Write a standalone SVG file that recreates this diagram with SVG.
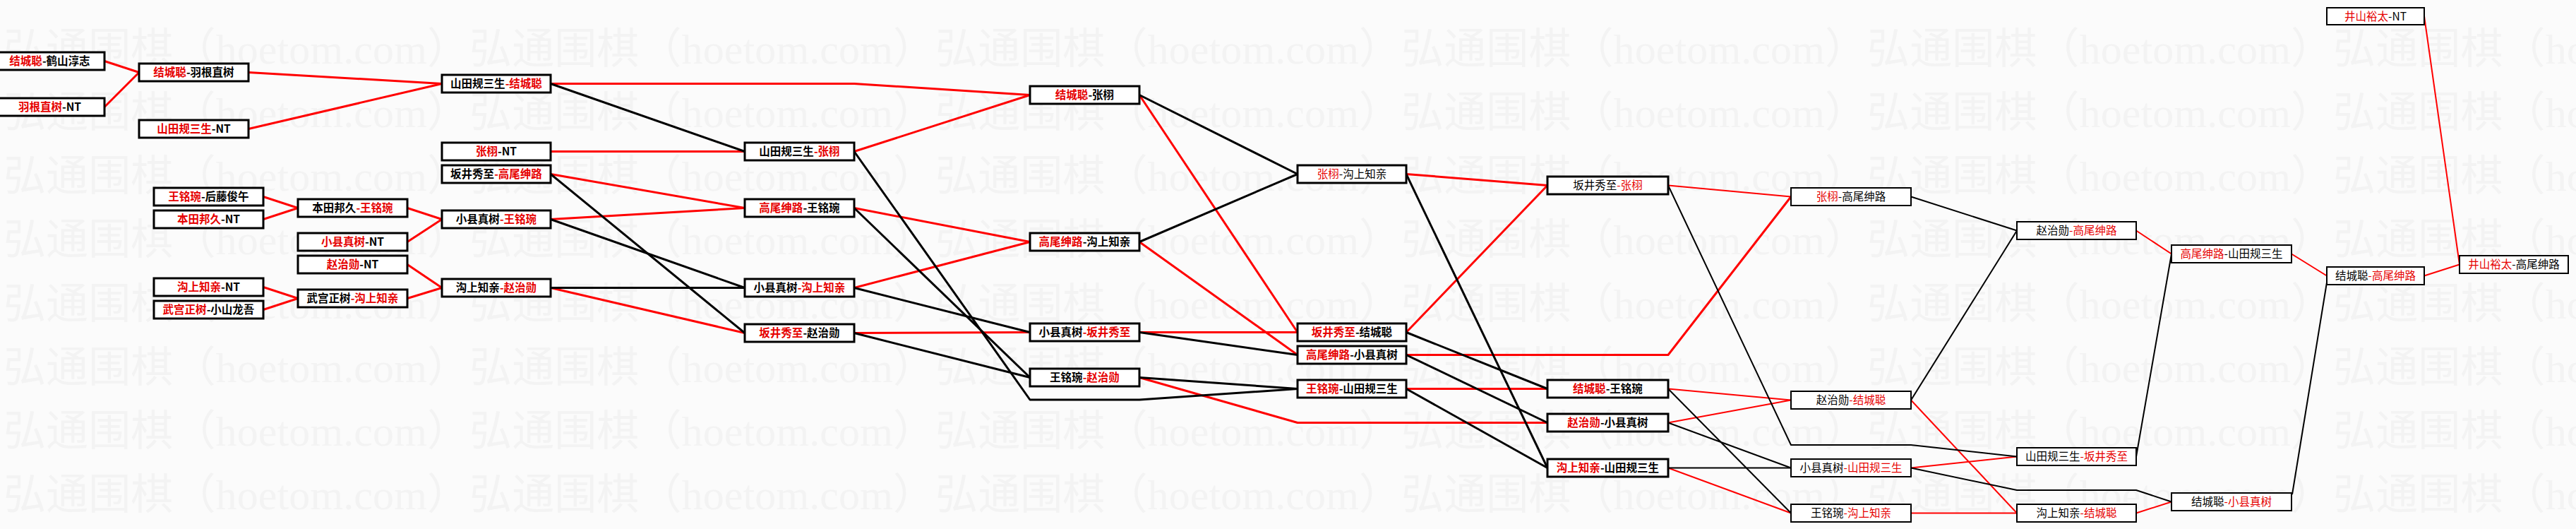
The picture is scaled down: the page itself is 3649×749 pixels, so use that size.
<svg xmlns="http://www.w3.org/2000/svg" width="3649" height="749" viewBox="0 0 3649 749">
<style>
.bg{fill:#fbfbfb}
.wm{font-family:"Liberation Serif","Noto Sans CJK SC",serif;font-size:60px;fill:#f3f3f3}
.bx{fill:#fff;stroke:#000;stroke-width:3}
.bx2{fill:#fff;stroke:#000;stroke-width:2}
.t{font-family:"Noto Sans CJK SC","Liberation Sans",sans-serif;font-size:15.5px;text-anchor:middle;font-weight:bold}
.tn{font-family:"Noto Sans CJK SC","Liberation Sans",sans-serif;font-size:15.5px;text-anchor:middle;font-weight:normal}
.r{fill:#e60000}
.k{fill:#000}
.lr{fill:none;stroke:#f00;stroke-width:3;stroke-linejoin:round}
.lk{fill:none;stroke:#000;stroke-width:3;stroke-linejoin:round}
.lr2{fill:none;stroke:#f00;stroke-width:2;stroke-linejoin:round}
.lk2{fill:none;stroke:#000;stroke-width:2;stroke-linejoin:round}
</style>
<rect class="bg" x="0" y="0" width="3649" height="749"/>
<g id="watermark">
<text class="wm" x="5" y="90" textLength="3960" lengthAdjust="spacing">弘通围棋（hoetom.com）弘通围棋（hoetom.com）弘通围棋（hoetom.com）弘通围棋（hoetom.com）弘通围棋（hoetom.com）弘通围棋（hoetom.com）</text>
<text class="wm" x="5" y="180" textLength="3960" lengthAdjust="spacing">弘通围棋（hoetom.com）弘通围棋（hoetom.com）弘通围棋（hoetom.com）弘通围棋（hoetom.com）弘通围棋（hoetom.com）弘通围棋（hoetom.com）</text>
<text class="wm" x="5" y="270" textLength="3960" lengthAdjust="spacing">弘通围棋（hoetom.com）弘通围棋（hoetom.com）弘通围棋（hoetom.com）弘通围棋（hoetom.com）弘通围棋（hoetom.com）弘通围棋（hoetom.com）</text>
<text class="wm" x="5" y="360" textLength="3960" lengthAdjust="spacing">弘通围棋（hoetom.com）弘通围棋（hoetom.com）弘通围棋（hoetom.com）弘通围棋（hoetom.com）弘通围棋（hoetom.com）弘通围棋（hoetom.com）</text>
<text class="wm" x="5" y="451" textLength="3960" lengthAdjust="spacing">弘通围棋（hoetom.com）弘通围棋（hoetom.com）弘通围棋（hoetom.com）弘通围棋（hoetom.com）弘通围棋（hoetom.com）弘通围棋（hoetom.com）</text>
<text class="wm" x="5" y="541" textLength="3960" lengthAdjust="spacing">弘通围棋（hoetom.com）弘通围棋（hoetom.com）弘通围棋（hoetom.com）弘通围棋（hoetom.com）弘通围棋（hoetom.com）弘通围棋（hoetom.com）</text>
<text class="wm" x="5" y="631" textLength="3960" lengthAdjust="spacing">弘通围棋（hoetom.com）弘通围棋（hoetom.com）弘通围棋（hoetom.com）弘通围棋（hoetom.com）弘通围棋（hoetom.com）弘通围棋（hoetom.com）</text>
<text class="wm" x="5" y="721" textLength="3960" lengthAdjust="spacing">弘通围棋（hoetom.com）弘通围棋（hoetom.com）弘通围棋（hoetom.com）弘通围棋（hoetom.com）弘通围棋（hoetom.com）弘通围棋（hoetom.com）</text>
</g>
<g id="connectors">
<polyline class="lr" points="148,86.5 197,102.5"/>
<polyline class="lr" points="148,151.5 197,102.5"/>
<polyline class="lr" points="352,102.5 626,118.5"/>
<polyline class="lr" points="352,182.5 626,118.5"/>
<polyline class="lr" points="373,278.5 422,294.5"/>
<polyline class="lr" points="373,310.5 422,294.5"/>
<polyline class="lr" points="373,406.5 422,422.5"/>
<polyline class="lr" points="373,438.5 422,422.5"/>
<polyline class="lr" points="577,294.5 626,310.5"/>
<polyline class="lr" points="577,342.5 626,310.5"/>
<polyline class="lr" points="577,374.5 626,407.5"/>
<polyline class="lr" points="577,422.5 626,407.5"/>
<polyline class="lr" points="780,118.5 1210,118.5 1459,134.5"/>
<polyline class="lr" points="780,214.5 1055,214.5"/>
<polyline class="lr" points="780,246.5 1055,294.5"/>
<polyline class="lr" points="780,310.5 1055,294.5"/>
<polyline class="lr" points="780,407.5 1055,471.5"/>
<polyline class="lr" points="1210,214.5 1459,134.5"/>
<polyline class="lr" points="1210,294.5 1459,342.5"/>
<polyline class="lr" points="1210,407.5 1459,342.5"/>
<polyline class="lr" points="1210,471.5 1459,470.5"/>
<polyline class="lr" points="1614,134.5 1838,470.5"/>
<polyline class="lr" points="1614,342.5 1838,502.5"/>
<polyline class="lr" points="1614,470.5 1838,470.5"/>
<polyline class="lr" points="1614,534.5 1838,598.5 2192,598.5"/>
<polyline class="lr" points="1992,246.5 2192,262.5"/>
<polyline class="lr" points="1992,470.5 2192,262.5"/>
<polyline class="lr" points="1992,502.5 2363,502.5 2537,278.5"/>
<polyline class="lr" points="1992,550.5 2192,550.5"/>
<polyline class="lr2" points="2363,262.5 2537,278.5"/>
<polyline class="lr2" points="2363,550.5 2537,566.5"/>
<polyline class="lr2" points="2363,598.5 2537,566.5"/>
<polyline class="lr2" points="2363,662.5 2537,726.5"/>
<polyline class="lr2" points="2707,566.5 2857,726.5"/>
<polyline class="lr2" points="2707,662.5 2857,646.5"/>
<polyline class="lr2" points="2707,726.5 2857,726.5"/>
<polyline class="lr2" points="3026,326.5 3076,359.5"/>
<polyline class="lr2" points="3026,726.5 3076,710.5"/>
<polyline class="lr2" points="3246,359.5 3296,390.5"/>
<polyline class="lr2" points="3434,390.5 3484,374.5"/>
<polyline class="lr2" points="3434,23 3484,374.5"/>
<polyline class="lk" points="780,118.5 1055,214.5"/>
<polyline class="lk" points="780,246.5 1055,471.5"/>
<polyline class="lk" points="780,310.5 1055,407.5"/>
<polyline class="lk" points="780,407.5 1055,407.5"/>
<polyline class="lk" points="1210,214.5 1459,566 1614,566 1838,550.5"/>
<polyline class="lk" points="1210,294.5 1459,534.5"/>
<polyline class="lk" points="1210,407.5 1459,470.5"/>
<polyline class="lk" points="1210,471.5 1459,534.5"/>
<polyline class="lk" points="1614,134.5 1838,246.5"/>
<polyline class="lk" points="1614,342.5 1838,246.5"/>
<polyline class="lk" points="1614,470.5 1838,502.5"/>
<polyline class="lk" points="1614,534.5 1838,550.5"/>
<polyline class="lk" points="1992,246.5 2192,662.5"/>
<polyline class="lk" points="1992,470.5 2192,550.5"/>
<polyline class="lk" points="1992,502.5 2192,598.5"/>
<polyline class="lk" points="1992,550.5 2192,662.5"/>
<polyline class="lk2" points="2363,262.5 2537,630 2707,630 2857,646.5"/>
<polyline class="lk2" points="2363,550.5 2537,726.5"/>
<polyline class="lk2" points="2363,598.5 2537,662.5"/>
<polyline class="lk2" points="2363,662.5 2537,662.5"/>
<polyline class="lk2" points="2707,278.5 2857,326.5"/>
<polyline class="lk2" points="2707,566.5 2857,326.5"/>
<polyline class="lk2" points="2707,662.5 2857,694 3026,694 3076,710.5"/>
<polyline class="lk2" points="3026,646.5 3076,359.5"/>
<polyline class="lk2" points="3247,700 3296,400"/>
</g>
<g id="n1"><rect class="bx" x="-7" y="74" width="155" height="25"/><text class="t" x="70.5" y="92"><tspan class="r">结城聪</tspan><tspan class="k">-鹤山淳志</tspan></text></g>
<g id="n2"><rect class="bx" x="-7" y="139" width="155" height="25"/><text class="t" x="70.5" y="157"><tspan class="r">羽根直树</tspan><tspan class="k">-NT</tspan></text></g>
<g id="n3"><rect class="bx" x="197" y="90" width="155" height="25"/><text class="t" x="274.5" y="108"><tspan class="r">结城聪</tspan><tspan class="k">-羽根直树</tspan></text></g>
<g id="n4"><rect class="bx" x="197" y="170" width="155" height="25"/><text class="t" x="274.5" y="188"><tspan class="r">山田规三生</tspan><tspan class="k">-NT</tspan></text></g>
<g id="n5"><rect class="bx" x="218" y="266" width="155" height="25"/><text class="t" x="295.5" y="284"><tspan class="r">王铭琬</tspan><tspan class="k">-后藤俊午</tspan></text></g>
<g id="n6"><rect class="bx" x="218" y="298" width="155" height="25"/><text class="t" x="295.5" y="316"><tspan class="r">本田邦久</tspan><tspan class="k">-NT</tspan></text></g>
<g id="n10"><rect class="bx" x="218" y="394" width="155" height="25"/><text class="t" x="295.5" y="412"><tspan class="r">沟上知亲</tspan><tspan class="k">-NT</tspan></text></g>
<g id="n11"><rect class="bx" x="218" y="426" width="155" height="25"/><text class="t" x="295.5" y="444"><tspan class="r">武宫正树</tspan><tspan class="k">-小山龙吾</tspan></text></g>
<g id="n7"><rect class="bx" x="422" y="282" width="155" height="25"/><text class="t" x="499.5" y="300"><tspan class="k">本田邦久</tspan><tspan class="r">-王铭琬</tspan></text></g>
<g id="n8"><rect class="bx" x="422" y="330" width="155" height="25"/><text class="t" x="499.5" y="348"><tspan class="r">小县真树</tspan><tspan class="k">-NT</tspan></text></g>
<g id="n9"><rect class="bx" x="422" y="362" width="155" height="25"/><text class="t" x="499.5" y="380"><tspan class="r">赵治勋</tspan><tspan class="k">-NT</tspan></text></g>
<g id="n12"><rect class="bx" x="422" y="410" width="155" height="25"/><text class="t" x="499.5" y="428"><tspan class="k">武宫正树</tspan><tspan class="r">-沟上知亲</tspan></text></g>
<g id="n13"><rect class="bx" x="626" y="106" width="154" height="25"/><text class="t" x="703" y="124"><tspan class="k">山田规三生</tspan><tspan class="r">-结城聪</tspan></text></g>
<g id="n14"><rect class="bx" x="626" y="202" width="154" height="25"/><text class="t" x="703" y="220"><tspan class="r">张栩</tspan><tspan class="k">-NT</tspan></text></g>
<g id="n15"><rect class="bx" x="626" y="234" width="154" height="25"/><text class="t" x="703" y="252"><tspan class="k">坂井秀至</tspan><tspan class="r">-高尾绅路</tspan></text></g>
<g id="n16"><rect class="bx" x="626" y="298" width="154" height="25"/><text class="t" x="703" y="316"><tspan class="k">小县真树</tspan><tspan class="r">-王铭琬</tspan></text></g>
<g id="n19"><rect class="bx" x="626" y="395" width="154" height="25"/><text class="t" x="703" y="413"><tspan class="k">沟上知亲</tspan><tspan class="r">-赵治勋</tspan></text></g>
<g id="n17"><rect class="bx" x="1055" y="202" width="155" height="25"/><text class="t" x="1132.5" y="220"><tspan class="k">山田规三生</tspan><tspan class="r">-张栩</tspan></text></g>
<g id="n18"><rect class="bx" x="1055" y="282" width="155" height="25"/><text class="t" x="1132.5" y="300"><tspan class="r">高尾绅路</tspan><tspan class="k">-王铭琬</tspan></text></g>
<g id="n20"><rect class="bx" x="1055" y="395" width="155" height="25"/><text class="t" x="1132.5" y="413"><tspan class="k">小县真树</tspan><tspan class="r">-沟上知亲</tspan></text></g>
<g id="n21"><rect class="bx" x="1055" y="459" width="155" height="25"/><text class="t" x="1132.5" y="477"><tspan class="r">坂井秀至</tspan><tspan class="k">-赵治勋</tspan></text></g>
<g id="n22"><rect class="bx" x="1459" y="122" width="155" height="25"/><text class="t" x="1536.5" y="140"><tspan class="r">结城聪</tspan><tspan class="k">-张栩</tspan></text></g>
<g id="n23"><rect class="bx" x="1459" y="330" width="155" height="25"/><text class="t" x="1536.5" y="348"><tspan class="r">高尾绅路</tspan><tspan class="k">-沟上知亲</tspan></text></g>
<g id="n24"><rect class="bx" x="1459" y="458" width="155" height="25"/><text class="t" x="1536.5" y="476"><tspan class="k">小县真树</tspan><tspan class="r">-坂井秀至</tspan></text></g>
<g id="n25"><rect class="bx" x="1459" y="522" width="155" height="25"/><text class="t" x="1536.5" y="540"><tspan class="k">王铭琬</tspan><tspan class="r">-赵治勋</tspan></text></g>
<g id="n26"><rect class="bx" x="1838" y="234" width="154" height="25"/><text class="tn" x="1915" y="252"><tspan class="r">张栩</tspan><tspan class="k">-沟上知亲</tspan></text></g>
<g id="n28"><rect class="bx" x="1838" y="458" width="154" height="25"/><text class="t" x="1915" y="476"><tspan class="r">坂井秀至</tspan><tspan class="k">-结城聪</tspan></text></g>
<g id="n29"><rect class="bx" x="1838" y="490" width="154" height="25"/><text class="t" x="1915" y="508"><tspan class="r">高尾绅路</tspan><tspan class="k">-小县真树</tspan></text></g>
<g id="n30"><rect class="bx" x="1838" y="538" width="154" height="25"/><text class="t" x="1915" y="556"><tspan class="r">王铭琬</tspan><tspan class="k">-山田规三生</tspan></text></g>
<g id="n27"><rect class="bx" x="2192" y="250" width="171" height="25"/><text class="tn" x="2277.5" y="268"><tspan class="k">坂井秀至</tspan><tspan class="r">-张栩</tspan></text></g>
<g id="n31"><rect class="bx" x="2192" y="538" width="171" height="25"/><text class="t" x="2277.5" y="556"><tspan class="r">结城聪</tspan><tspan class="k">-王铭琬</tspan></text></g>
<g id="n32"><rect class="bx" x="2192" y="586" width="171" height="25"/><text class="t" x="2277.5" y="604"><tspan class="r">赵治勋</tspan><tspan class="k">-小县真树</tspan></text></g>
<g id="n33"><rect class="bx" x="2192" y="650" width="171" height="25"/><text class="t" x="2277.5" y="668"><tspan class="r">沟上知亲</tspan><tspan class="k">-山田规三生</tspan></text></g>
<g id="n34"><rect class="bx2" x="2537" y="266" width="170" height="25"/><text class="tn" x="2622" y="284"><tspan class="r">张栩</tspan><tspan class="k">-高尾绅路</tspan></text></g>
<g id="n36"><rect class="bx2" x="2537" y="554" width="170" height="25"/><text class="tn" x="2622" y="572"><tspan class="k">赵治勋</tspan><tspan class="r">-结城聪</tspan></text></g>
<g id="n37"><rect class="bx2" x="2537" y="650" width="170" height="25"/><text class="tn" x="2622" y="668"><tspan class="k">小县真树</tspan><tspan class="r">-山田规三生</tspan></text></g>
<g id="n38"><rect class="bx2" x="2537" y="714" width="170" height="25"/><text class="tn" x="2622" y="732"><tspan class="k">王铭琬</tspan><tspan class="r">-沟上知亲</tspan></text></g>
<g id="n35"><rect class="bx2" x="2857" y="314" width="169" height="25"/><text class="tn" x="2941.5" y="332"><tspan class="k">赵治勋</tspan><tspan class="r">-高尾绅路</tspan></text></g>
<g id="n39"><rect class="bx2" x="2857" y="634" width="169" height="25"/><text class="tn" x="2941.5" y="652"><tspan class="k">山田规三生</tspan><tspan class="r">-坂井秀至</tspan></text></g>
<g id="n40"><rect class="bx2" x="2857" y="714" width="169" height="25"/><text class="tn" x="2941.5" y="732"><tspan class="k">沟上知亲</tspan><tspan class="r">-结城聪</tspan></text></g>
<g id="n42"><rect class="bx2" x="3076" y="347" width="170" height="25"/><text class="tn" x="3161" y="365"><tspan class="r">高尾绅路</tspan><tspan class="k">-山田规三生</tspan></text></g>
<g id="n45"><rect class="bx2" x="3076" y="698" width="170" height="25"/><text class="tn" x="3161" y="716"><tspan class="k">结城聪</tspan><tspan class="r">-小县真树</tspan></text></g>
<g id="n41"><rect class="bx2" x="3296" y="11" width="138" height="24"/><text class="tn" x="3365" y="28.5"><tspan class="r">井山裕太</tspan><tspan class="k">-NT</tspan></text></g>
<g id="n44"><rect class="bx2" x="3296" y="378" width="138" height="25"/><text class="tn" x="3365" y="396"><tspan class="k">结城聪</tspan><tspan class="r">-高尾绅路</tspan></text></g>
<g id="n43"><rect class="bx2" x="3484" y="362" width="154" height="25"/><text class="tn" x="3561" y="380"><tspan class="r">井山裕太</tspan><tspan class="k">-高尾绅路</tspan></text></g>
</svg>
